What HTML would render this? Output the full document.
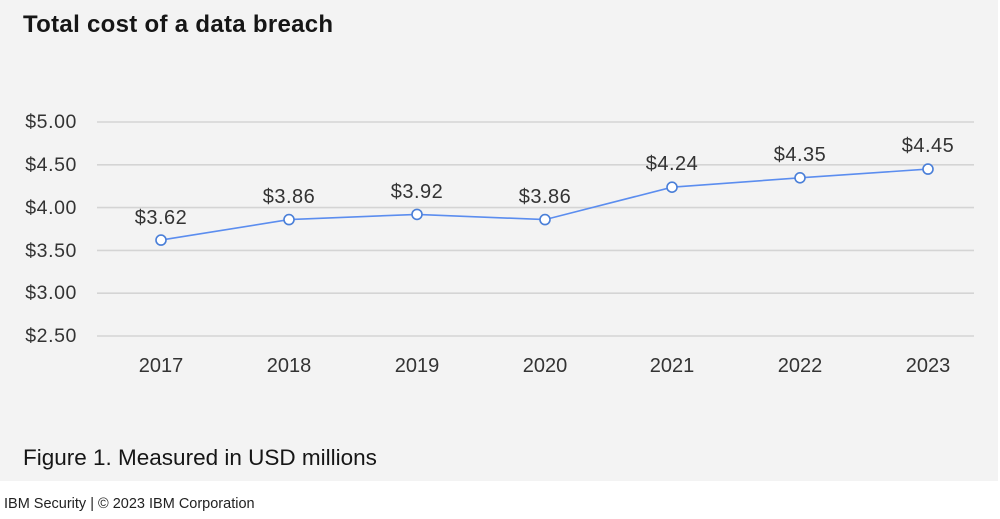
<!DOCTYPE html>
<html><head><meta charset="utf-8">
<style>
html,body{margin:0;padding:0;background:#fff;width:1000px;height:519px;overflow:hidden;}
svg{display:block;}
text{font-family:"Liberation Sans",sans-serif;}
</style></head>
<body>
<svg width="1000" height="519" viewBox="0 0 1000 519" xmlns="http://www.w3.org/2000/svg">
<rect x="0" y="0" width="998" height="481" fill="#f3f3f3"/>
<text x="23" y="32" font-size="24" font-weight="bold" letter-spacing="0.3" fill="#161616">Total cost of a data breach</text>
<g stroke="#d4d4d4" stroke-width="1.6">
<line x1="97" y1="122" x2="974" y2="122"/>
<line x1="97" y1="164.8" x2="974" y2="164.8"/>
<line x1="97" y1="207.6" x2="974" y2="207.6"/>
<line x1="97" y1="250.4" x2="974" y2="250.4"/>
<line x1="97" y1="293.2" x2="974" y2="293.2"/>
<line x1="97" y1="336" x2="974" y2="336"/>
</g>
<g font-size="19.5" fill="#333" text-anchor="end" letter-spacing="0.6">
<text x="77" y="128">$5.00</text>
<text x="77" y="171">$4.50</text>
<text x="77" y="214">$4.00</text>
<text x="77" y="257">$3.50</text>
<text x="77" y="299">$3.00</text>
<text x="77" y="342">$2.50</text>
</g>
<g font-size="20" fill="#333" text-anchor="middle">
<text x="161" y="372">2017</text>
<text x="289" y="372">2018</text>
<text x="417" y="372">2019</text>
<text x="545" y="372">2020</text>
<text x="672" y="372">2021</text>
<text x="800" y="372">2022</text>
<text x="928" y="372">2023</text>
</g>
<polyline fill="none" stroke="#5b8def" stroke-width="1.6" points="161,240.1 289,219.6 417,214.4 545,219.6 672,187.2 800,177.8 928,169.1"/>
<g fill="#fff" stroke="#4a7fd8" stroke-width="1.6">
<circle cx="161" cy="240.1" r="5"/>
<circle cx="289" cy="219.6" r="5"/>
<circle cx="417" cy="214.4" r="5"/>
<circle cx="545" cy="219.6" r="5"/>
<circle cx="672" cy="187.2" r="5"/>
<circle cx="800" cy="177.8" r="5"/>
<circle cx="928" cy="169.1" r="5"/>
</g>
<g font-size="20" fill="#333" text-anchor="middle" letter-spacing="0.5">
<text x="161" y="224">$3.62</text>
<text x="289" y="203">$3.86</text>
<text x="417" y="198">$3.92</text>
<text x="545" y="203">$3.86</text>
<text x="672" y="170">$4.24</text>
<text x="800" y="161">$4.35</text>
<text x="928" y="152">$4.45</text>
</g>
<text x="23" y="465" font-size="22.5" fill="#161616">Figure 1. Measured in USD millions</text>
<text x="4" y="508" font-size="14.5" fill="#222">IBM Security | © 2023 IBM Corporation</text>
</svg>
</body></html>
